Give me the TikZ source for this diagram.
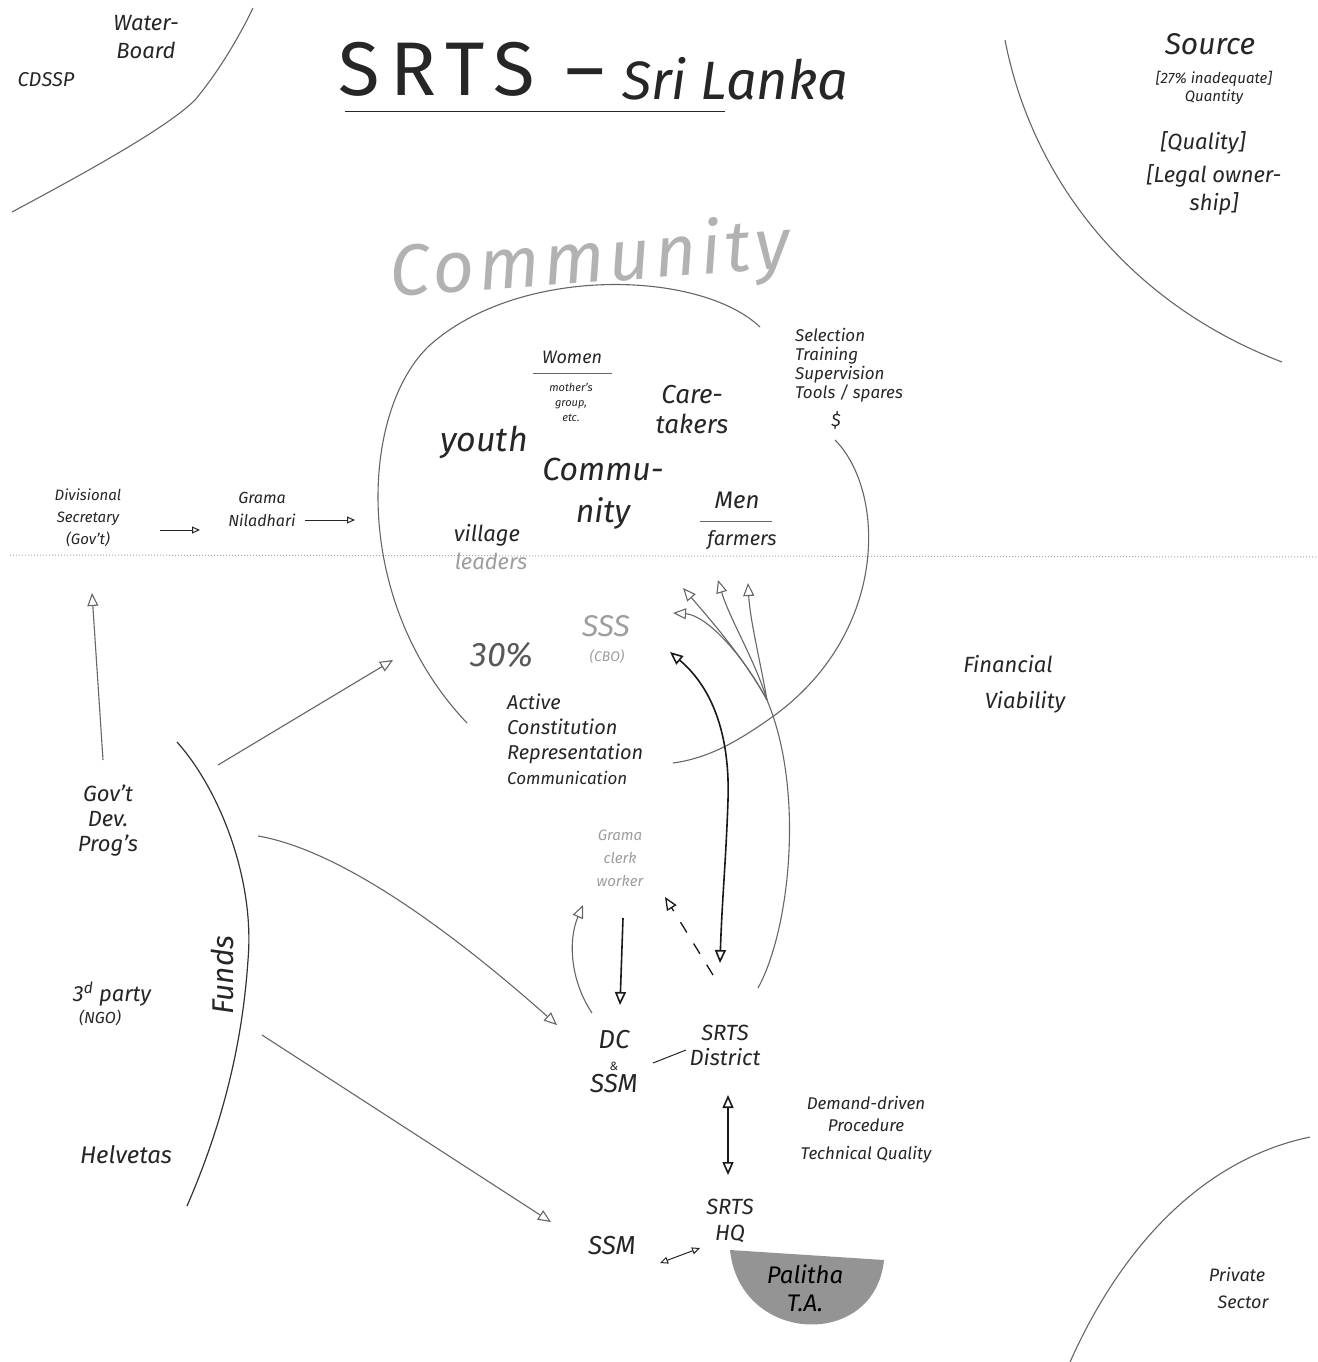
\documentclass[tikz,border=0pt]{standalone}
\usepackage{fontspec}
\setmainfont{Fira Sans}
\usetikzlibrary{arrows.meta}
\begin{document}
\begin{tikzpicture}[x=1pt,y=-1pt,
  fs/.style 2 args={font=\itshape\fontsize{#1}{#2}\selectfont},
  hw/.style={inner sep=0pt, align=center, text=black!85},
  faint/.style={hw, text=black!38},
  pencil/.style={draw=black!60, line width=1.1pt},
  ink/.style={draw=black!90, line width=1.6pt},
  tri/.style={-{Triangle[open,length=13pt,width=11pt]}},
  tritri/.style={{Triangle[open,length=13pt,width=11pt]}-{Triangle[open,length=13pt,width=11pt]}},
  trismall/.style={-{Triangle[open,length=8pt,width=7pt]}},
  trismalltwo/.style={{Triangle[open,length=8pt,width=7pt]}-{Triangle[open,length=8pt,width=7pt]}},
]
\path[use as bounding box, fill=white] (0,0) rectangle (1317,1362);

% fold line
\coordinate (foldL) at (10,555);
\coordinate (foldR) at (1317,557);
\draw[black!35, dotted, line width=1pt] (foldL) -- (foldR);

% title
\node[hw, anchor=base west, font=\fontsize{76}{80}\selectfont\addfontfeature{LetterSpace=14}] (t1) at (338,96) {SRTS –};
\node[hw, anchor=base west, fs={54}{60}] (t2) at (622,100) {Sri Lanka};
\draw[black!85, line width=1pt] (345,112) -- (725,112);

% top-left corner
\draw[pencil] (12,212) .. controls (100,165) and (170,125) .. (195,100) .. controls (220,70) and (240,35) .. (253,8);
\node[hw, fs={22}{28}] (water) at (146,37) {Water-\\Board};
\node[hw, fs={20}{24}] (cdssp) at (46,80) {CDSSP};

% top-right corner
\draw[pencil] (1005,40) .. controls (1030,170) and (1120,300) .. (1282,362);
\node[hw, fs={30}{34}] (source) at (1210,44) {Source};
\node[hw, fs={15}{18}] (inad) at (1214,88) {[27\% inadequate]\\Quantity};
\node[hw, fs={22}{26}] (qual) at (1203,143) {[Quality]};
\node[hw, fs={22}{28}] (legal) at (1214,190) {[Legal owner-\\ship]};

% community circle
\draw[pencil] (760,327) .. controls (700,270) and (520,265) .. (430,345) .. controls (360,410) and (350,600) .. (467,723);
\draw[pencil] (835,440) .. controls (885,490) and (890,630) .. (775,715) .. controls (740,740) and (710,758) .. (673,763);
\node[faint, rotate=4, font=\itshape\fontsize{72}{76}\selectfont\addfontfeature{LetterSpace=6}, text=black!30] (commlabel) at (590,262) {Community};

% inside circle
\node[hw, fs={18}{20}] (women) at (572,357) {Women};
\draw[black!60, line width=1pt] (533,373) -- (612,373);
\node[hw, fs={11}{15}] (mothers) at (571,402) {mother's\\group,\\etc.};
\node[hw, fs={26}{30}] (care) at (692,410) {Care-\\takers};
\node[hw, fs={34}{38}] (youth) at (484,442) {youth};
\node[hw, fs={32}{42}] (commu) at (603,494) {Commu-\\nity};
\node[hw, fs={24}{26}] (men) at (737,500) {Men};
\draw[black!60, line width=1pt] (700,521) -- (772,521);
\node[hw, fs={20}{24}] (farmers) at (742,540) {farmers};
\node[hw, fs={22}{24}] (village) at (487,535) {village};
\node[faint, fs={22}{24}] (leaders) at (491,561) {leaders};
\node[hw, fs={34}{38}, text=black!65] (thirty) at (502,655) {30\%};
\node[faint, fs={30}{32}] (sss) at (606,626) {SSS};
\node[faint, fs={14}{16}] (cbo) at (607,657) {(CBO)};

% selection block
\node[hw, fs={17}{19}, align=left, anchor=north west] (sel) at (795,328) {Selection\\Training\\Supervision\\Tools / spares};
\node[hw, fs={18}{20}] (dollar) at (836,420) {\$};

% active block
\node[hw, fs={20}{25}, align=left, anchor=north west] (active) at (507,694) {Active\\Constitution\\Representation\\{\fontsize{17}{20}\selectfont Communication}};
\node[faint, fs={15}{23}] (grama2) at (620,858) {Grama\\clerk\\worker};

% left side
\node[hw, fs={15}{22}] (divis) at (88,518) {Divisional\\Secretary\\(Gov't)};
\node[hw, fs={16}{23}] (gramaN) at (262,509) {Grama\\Niladhari};
\coordinate (dsR) at (160,530);
\coordinate (gnL) at (200,530);
\coordinate (gnR) at (305,520);
\coordinate (circL) at (355,520);
\draw[black!85, line width=1pt, trismall] (dsR) -- (gnL);
\draw[black!85, line width=1pt, trismall] (gnR) -- (circL);

\node[hw, fs={22}{25}] (gov) at (108,821) {Gov't\\Dev.\\Prog's};
\coordinate (govT) at (103,760);
\coordinate (divB) at (92,593);
\draw[pencil, tri] (govT) -- (divB);

\node[hw, fs={22}{24}] (third) at (112,994) {3\textsuperscript{d} party};
\node[hw, fs={16}{18}] (ngo) at (100,1018) {(NGO)};
\node[hw, fs={24}{26}] (helv) at (126,1155) {Helvetas};

% funds curve
\draw[black!80, line width=1.2pt] (177,742) .. controls (220,790) and (255,880) .. (248,960) .. controls (242,1050) and (220,1130) .. (187,1206);
\node[hw, fs={30}{32}, rotate=90] (funds) at (222,975) {Funds};

% funds arrows
\coordinate (f1) at (218,765);
\coordinate (circBL) at (393,660);
\draw[pencil, tri] (f1) -- (circBL);
\coordinate (f2) at (258,836);
\coordinate (dcTip) at (557,1025);
\draw[pencil, tri] (f2) .. controls (340,850) and (450,930) .. (dcTip);
\coordinate (f3) at (262,1035);
\coordinate (ssmTip) at (551,1222);
\draw[pencil, tri] (f3) -- (ssmTip);

% DC & SSM, SRTS District
\node[hw, fs={26}{22}] (dc) at (614,1062) {DC\\{\fontsize{12}{12}\selectfont \&}\\SSM};
\node[hw, fs={22}{25}] (district) at (725,1045) {SRTS\\District};
\coordinate (dcR) at (653,1063);
\coordinate (distL) at (686,1050);
\draw[black!85, line width=1pt] (dcR) -- (distL);

% arrows between DC and community
\coordinate (gwB) at (623,918);
\coordinate (dcT) at (620,1005);
\draw[ink, tri] (gwB) -- (dcT);
\coordinate (dcTL) at (592,1013);
\coordinate (gwBL) at (583,905);
\draw[pencil, tri] (dcTL) .. controls (570,980) and (568,940) .. (gwBL);
\coordinate (distTL) at (713,975);
\coordinate (gwBR) at (665,897);
\draw[black!90, line width=1.3pt, dash pattern=on 12pt off 13pt, tri] (distTL) -- (gwBR);
\coordinate (sssTip) at (670,652);
\coordinate (distTop) at (720,963);
\draw[ink, tritri] (sssTip) .. controls (715,690) and (730,740) .. (728,800) .. controls (726,860) and (722,900) .. (distTop);

% gray fan
\coordinate (distR) at (758,988);
\coordinate (J) at (767,700);
\draw[pencil] (distR) .. controls (790,930) and (805,790) .. (J);
\coordinate (h1) at (673,613);
\coordinate (h2) at (683,588);
\coordinate (h3) at (718,580);
\coordinate (h4) at (748,583);
\draw[pencil, tri] (J) .. controls (740,650) and (705,615) .. (h1);
\draw[pencil, tri] (J) .. controls (745,660) and (715,625) .. (h2);
\draw[pencil, tri] (J) .. controls (755,660) and (730,620) .. (h3);
\draw[pencil, tri] (J) .. controls (760,660) and (750,620) .. (h4);

% financial viability
\node[hw, fs={22}{36}] (fin) at (1008,684) {Financial\\\hspace*{34pt}Viability};

% demand-driven
\node[hw, fs={17}{22}] (demand) at (866,1130) {Demand-driven\\Procedure\\[6pt]Technical Quality};
\coordinate (distB) at (728,1095);
\coordinate (hqT) at (728,1175);
\draw[ink, tritri] (distB) -- (hqT);

% HQ
\node[hw, fs={22}{26}] (hq) at (730,1221) {SRTS\\HQ};
\node[hw, fs={26}{28}] (ssm) at (612,1246) {SSM};
\coordinate (ssmR) at (660,1263);
\coordinate (hqL) at (700,1248);
\draw[black!85, line width=1pt, trismalltwo] (ssmR) -- (hqL);

% Palitha TA
\fill[black!42] (730,1250) .. controls (740,1345) and (875,1350) .. (884,1260) -- cycle;
\node[hw, fs={24}{28}, text=black] (palitha) at (805,1288) {Palitha\\T.A.};

% bottom right
\draw[pencil] (1070,1362) .. controls (1120,1250) and (1200,1160) .. (1310,1137);
\node[hw, fs={18}{27}] (private) at (1237,1288) {Private\\\hspace*{12pt}Sector};
\end{tikzpicture}
\end{document}
